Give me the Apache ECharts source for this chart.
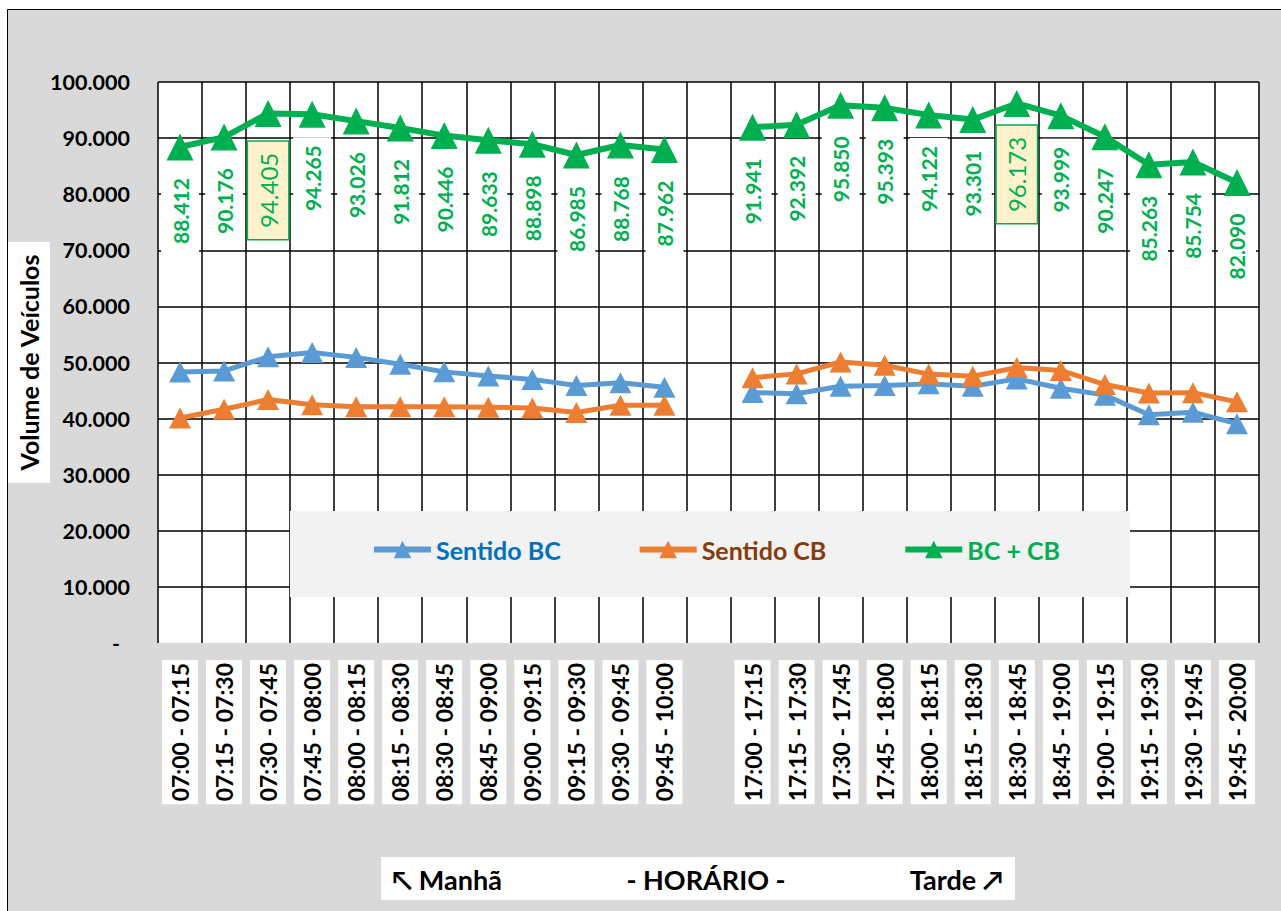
<!DOCTYPE html>
<html>
<head>
<meta charset="utf-8">
<script src="https://cdn.jsdelivr.net/npm/echarts@6/dist/echarts.min.js"></script>
<style>
  html, body { margin: 0; padding: 0; background: #fff; }
  #chart { width: 1281px; height: 911px; }
</style>
</head>
<body>
<div id="chart"></div>
<script>
// categorias (manhã, intervalo vazio, tarde)
const categories = [
  "07:00 - 07:15", "07:15 - 07:30", "07:30 - 07:45", "07:45 - 08:00",
  "08:00 - 08:15", "08:15 - 08:30", "08:30 - 08:45", "08:45 - 09:00",
  "09:00 - 09:15", "09:15 - 09:30", "09:30 - 09:45", "09:45 - 10:00",
  "",
  "17:00 - 17:15", "17:15 - 17:30", "17:30 - 17:45", "17:45 - 18:00",
  "18:00 - 18:15", "18:15 - 18:30", "18:30 - 18:45", "18:45 - 19:00",
  "19:00 - 19:15", "19:15 - 19:30", "19:30 - 19:45", "19:45 - 20:00",
];
const sentidoBC = [
  48312, 48506, 51012, 51790, 50911, 49702, 48330, 47608, 46990, 45902, 46381, 45570,
  "-",
  44640, 44420, 45760, 45880, 46190, 45760, 47080, 45420, 44180, 40700, 41130, 39100,
];
const sentidoCB = [
  40100, 41670, 43393, 42475, 42115, 42110, 42116, 42025, 41908, 41083, 42387, 42392,
  "-",
  47301, 47972, 50090, 49513, 47932, 47541, 49093, 48579, 46067, 44563, 44624, 42990,
];
const totalBCCB = [
  88412, 90176, 94405, 94265, 93026, 91812, 90446, 89633, 88898, 86985, 88768, 87962,
  "-",
  91941, 92392, 95850, 95393, 94122, 93301, 96173, 93999, 90247, 85263, 85754, 82090,
];
// picos destacados (manhã e tarde)
const picos = [2, 19];

const fmt = (v) => String(v).replace(/\B(?=(\d{3})+(?!\d))/g, ".");
const FONT = "Lato, 'DejaVu Sans', sans-serif";

const myChart = echarts.init(document.getElementById("chart"), null, { renderer: "svg" });

const totalData = totalBCCB.map(function (v, i) {
  if (picos.indexOf(i) < 0) return v;
  return {
    value: v,
    label: {
      offset: [i === 2 ? -77 : -71, 0],
      fontWeight: "normal",
      fontSize: 24,
      lineHeight: 26,
      backgroundColor: "#fff2cc",
      borderColor: "#00b050",
      borderWidth: 1.5,
      padding: [7, 11],
    },
  };
});

const option = {
  backgroundColor: "#fff",
  animation: false,
  grid: {
    left: 158, right: 22, top: 82, bottom: 268,
    outerBoundsMode: "none",
    show: true, backgroundColor: "#fff", borderWidth: 0,
  },
  graphic: [
    {
      type: "rect", z: -10,
      shape: { x: 7.5, y: 9.5, width: 1300, height: 920 },
      style: { fill: "#d9d9d9", stroke: "#000", lineWidth: 1 },
    },
    {
      type: "rect", z: 1,
      shape: { x: 290, y: 511, width: 840, height: 86 },
      style: { fill: "#f2f2f2" },
    },
    {
      type: "rect", z: 1,
      shape: { x: 381, y: 857, width: 634, height: 43 },
      style: { fill: "#fff" },
    },
    {
      type: "text", z: 2, x: 392, y: 879,
      style: { text: "↖ Manhã", font: "bold 27px " + FONT, fill: "#000", textVerticalAlign: "middle" },
    },
    {
      type: "text", z: 2, x: 706, y: 879,
      style: { text: "- HORÁRIO -", font: "bold 27px " + FONT, fill: "#000", textAlign: "center", textVerticalAlign: "middle" },
    },
    {
      type: "text", z: 2, x: 1003, y: 879,
      style: { text: "Tarde ↗", font: "bold 27px " + FONT, fill: "#000", textAlign: "right", textVerticalAlign: "middle" },
    },
  ],
  legend: {
    left: 366,
    top: 532,
    itemWidth: 57,
    itemHeight: 22,
    itemGap: 76,
    lineStyle: { width: 6 },
    textStyle: { fontFamily: FONT, fontWeight: "bold", fontSize: 25 },
    data: [
      { name: "Sentido BC", textStyle: { color: "#0070c0" } },
      { name: "Sentido CB", textStyle: { color: "#843c0c" } },
      { name: "BC + CB", textStyle: { color: "#00b050" } },
    ],
  },
  xAxis: {
    type: "category",
    data: categories,
    boundaryGap: true,
    axisLine: { show: false },
    axisTick: { show: false },
    axisLabel: {
      interval: function (index, value) { return value !== ""; },
      rotate: 90,
      margin: 17,
      color: "#000",
      fontFamily: FONT,
      fontWeight: "bold",
      fontSize: 23,
      lineHeight: 24,
      backgroundColor: "#fff",
      padding: [6, 3],
    },
    splitLine: { show: true, interval: 0, lineStyle: { color: "#000", width: 1.5 } },
  },
  yAxis: {
    type: "value",
    min: 0,
    max: 100000,
    interval: 10000,
    name: "Volume de Veículos",
    nameLocation: "middle",
    nameRotate: 90,
    nameGap: 108,
    nameMoveOverlap: false,
    nameTextStyle: {
      color: "#000", fontFamily: FONT, fontWeight: "bold", fontSize: 25, lineHeight: 28,
      backgroundColor: "#fff", padding: [7, 12],
    },
    axisLine: { show: false },
    axisTick: { show: false },
    axisLabel: {
      margin: 28,
      color: "#000",
      fontFamily: FONT,
      fontWeight: "bold",
      fontSize: 21.5,
      formatter: function (v) { return v === 0 ? "{z|-}" : fmt(v); },
      rich: { z: { padding: [0, 10, 0, 0], fontFamily: FONT, fontWeight: "bold", fontSize: 21.5, color: "#000" } },
    },
    splitLine: { show: true, showMinLine: false, lineStyle: { color: "#000", width: 1.5 } },
  },
  series: [
    {
      name: "Sentido BC",
      type: "line",
      data: sentidoBC,
      symbol: "triangle",
      symbolSize: [22, 21],
      connectNulls: false,
      lineStyle: { width: 5, color: "#5b9bd5" },
      itemStyle: { color: "#5b9bd5" },
    },
    {
      name: "Sentido CB",
      type: "line",
      data: sentidoCB,
      symbol: "triangle",
      symbolSize: [22, 21],
      connectNulls: false,
      lineStyle: { width: 5, color: "#ed7d31" },
      itemStyle: { color: "#ed7d31" },
    },
    {
      name: "BC + CB",
      type: "line",
      data: totalData,
      symbol: "triangle",
      symbolSize: 27,
      connectNulls: false,
      lineStyle: { width: 6, color: "#00b050" },
      itemStyle: { color: "#00b050" },
      label: {
        show: true,
        position: "inside",
        rotate: 90,
        offset: [-64, 0],
        color: "#00b050",
        fontFamily: FONT,
        fontWeight: "bold",
        fontSize: 21,
        lineHeight: 24,
        backgroundColor: "#fff",
        padding: [7, 8],
        formatter: function (p) { return fmt(p.value); },
      },
    },
  ],
};

myChart.setOption(option);
</script>
</body>
</html>
